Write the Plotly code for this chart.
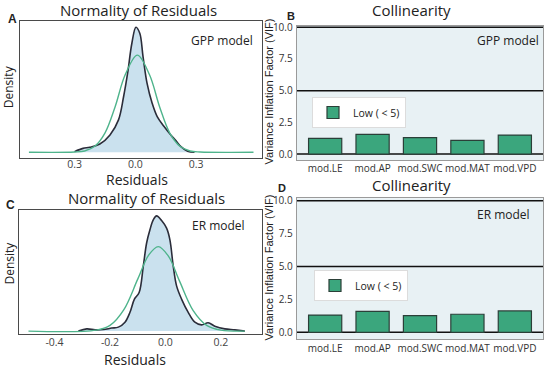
import plotly.graph_objects as go

# ---------------- data ----------------
# Panel A (GPP model) - kernel density of residuals (black) and normal fit (green)
gpp_kde_x = [-0.300, -0.258, -0.225, -0.175, -0.125, -0.083, -0.058, -0.038, -0.017, 0.003,
             0.022, 0.038, 0.058, 0.083, 0.108, 0.142, 0.175, 0.200, 0.225, 0.258, 0.292]
gpp_kde_y = [0.03, 0.18, 0.23, 0.38, 0.80, 1.50, 2.57, 3.66, 5.05, 5.79,
             5.51, 4.43, 3.19, 2.27, 1.65, 1.19, 0.80, 0.54, 0.26, 0.05, 0.0]
gpp_norm_x = [-0.525, -0.30, -0.25, -0.20, -0.15, -0.10, -0.05, 0.01, 0.07, 0.12, 0.17, 0.22, 0.27, 0.32, 0.583]
gpp_norm_y = [0.0, 0.01, 0.06, 0.28, 0.89, 2.10, 3.59, 4.50, 3.59, 2.10, 0.89, 0.28, 0.06, 0.01, 0.0]

# Panel C (ER model)
er_kde_x = [-0.314, -0.284, -0.254, -0.224, -0.194, -0.170, -0.146, -0.128, -0.112, -0.095,
            -0.080, -0.068, -0.056, -0.044, -0.032, -0.014, 0.004, 0.016, 0.028, 0.040,
            0.058, 0.082, 0.106, 0.130, 0.154, 0.178, 0.214, 0.250, 0.286]
er_kde_y = [0.0, 0.14, 0.08, 0.10, 0.19, 0.25, 0.56, 1.18, 2.01, 2.42,
            4.08, 5.53, 6.36, 6.98, 7.23, 6.94, 6.46, 5.73, 4.08, 2.84,
            2.01, 1.18, 0.56, 0.39, 0.52, 0.31, 0.14, 0.08, 0.0]
er_norm_x = [-0.494, -0.25, -0.20, -0.15, -0.10, -0.06, -0.026, 0.01, 0.05, 0.10, 0.15, 0.20, 0.286]
er_norm_y = [0.0, 0.06, 0.36, 1.35, 3.26, 4.78, 5.30, 4.72, 3.17, 1.29, 0.34, 0.06, 0.0]

# Panels B / D - collinearity (VIF)
predictors = ["mod.LE", "mod.AP", "mod.SWC", "mod.MAT", "mod.VPD"]
vif_gpp = [1.24, 1.55, 1.29, 1.08, 1.50]
vif_er = [1.31, 1.59, 1.26, 1.37, 1.62]

a_ticks = [-0.3, 0.0, 0.3]
a_ticktext = ["0.3", "0.0", "0.3"]
c_ticks = [-0.4, -0.2, 0.0, 0.2]
c_ticktext = ["-0.4", "-0.2", "0.0", "0.2"]
vif_ticks = [0, 2.5, 5, 7.5, 10]
vif_ticktext = ["0.0", "2.5", "5.0", "7.5", "10.0"]

# ---------------- styles ----------------
W, H = 550, 370
FONT = "Open Sans"
KDE_LINE = "#2b2d3a"
KDE_FILL = "rgba(196,222,236,0.9)"
NORM_LINE = "#4fb48c"
BAR_COLOR = "#3ba67d"
BAR_EDGE = "#2b3f38"
VIF_BG = "#e8f1f4"


def px(x):
    return x / W


def py(y):
    return 1 - y / H


fig = go.Figure()

# A
fig.add_trace(go.Scatter(x=gpp_kde_x, y=gpp_kde_y, mode="lines", line=dict(color=KDE_LINE, width=1.6, shape="spline"),
                         fill="tozeroy", fillcolor=KDE_FILL, xaxis="x", yaxis="y", showlegend=False))
fig.add_trace(go.Scatter(x=gpp_norm_x, y=gpp_norm_y, mode="lines", line=dict(color=NORM_LINE, width=1.4, shape="spline"),
                         xaxis="x", yaxis="y", showlegend=False))
# C
fig.add_trace(go.Scatter(x=er_kde_x, y=er_kde_y, mode="lines", line=dict(color=KDE_LINE, width=1.6, shape="spline"),
                         fill="tozeroy", fillcolor=KDE_FILL, xaxis="x3", yaxis="y3", showlegend=False))
fig.add_trace(go.Scatter(x=er_norm_x, y=er_norm_y, mode="lines", line=dict(color=NORM_LINE, width=1.4, shape="spline"),
                         xaxis="x3", yaxis="y3", showlegend=False))
# B
fig.add_trace(go.Bar(x=predictors, y=vif_gpp, width=0.7, marker=dict(color=BAR_COLOR, line=dict(color=BAR_EDGE, width=1.2)),
                     name="Low ( < 5)", xaxis="x2", yaxis="y2", legend="legend", showlegend=True))
# D
fig.add_trace(go.Bar(x=predictors, y=vif_er, width=0.7, marker=dict(color=BAR_COLOR, line=dict(color=BAR_EDGE, width=1.2)),
                     name="Low ( < 5)", xaxis="x4", yaxis="y4", legend="legend2", showlegend=True))

frame_ac = dict(showline=True, linecolor="#4a4a4a", linewidth=1.3, mirror=True, showgrid=False, zeroline=False)
frame_bd = dict(showline=True, linecolor="#9a9a9a", linewidth=1, mirror=True, showgrid=False, zeroline=False)
tickfont = dict(family=FONT, size=10.5, color="#444")
cat_font = dict(family=FONT, size=10, color="#333")
vif_font = dict(family=FONT, size=10, color="#333")

fig.update_layout(
    width=W, height=H, margin=dict(l=0, r=0, t=0, b=0, autoexpand=False),
    paper_bgcolor="white", plot_bgcolor="white",
    font=dict(family=FONT, color="#222"),
    xaxis=dict(domain=[px(20), px(262)], range=[-0.569, 0.625], tickvals=a_ticks, ticktext=a_ticktext,
               ticks="", tickfont=tickfont, ticklabelstandoff=-4, anchor="y", **frame_ac),
    yaxis=dict(domain=[py(158.3), py(21)], range=[-0.28, 6.08], showticklabels=False, ticks="", anchor="x", **frame_ac),
    xaxis3=dict(domain=[px(18.5), px(261.7)], range=[-0.53, 0.347], tickvals=c_ticks, ticktext=c_ticktext,
                ticks="", tickfont=tickfont, ticklabelstandoff=-1, anchor="y3", **frame_ac),
    yaxis3=dict(domain=[py(333.5), py(210)], range=[-0.15, 7.6], showticklabels=False, ticks="", anchor="x3", **frame_ac),
    xaxis2=dict(domain=[px(296.7), px(543.3)], range=[-0.6, 4.6], ticks="", tickangle=0, tickfont=cat_font,
                ticklabelstandoff=-1, automargin=False, anchor="y2", **frame_bd),
    yaxis2=dict(domain=[py(160), py(25.5)], range=[-0.47, 10.14], tickvals=vif_ticks, ticktext=vif_ticktext, ticks="",
                tickfont=vif_font, ticklabelstandoff=1, automargin=False, anchor="x2", **frame_bd),
    xaxis4=dict(domain=[px(296.7), px(543.3)], range=[-0.6, 4.6], ticks="", tickangle=0, tickfont=cat_font,
                automargin=False, anchor="y4", **frame_bd),
    yaxis4=dict(domain=[py(339), py(198.3)], range=[-0.51, 10.18], tickvals=vif_ticks, ticktext=vif_ticktext, ticks="",
                tickfont=vif_font, ticklabelstandoff=1, automargin=False, anchor="x4", **frame_bd),
    legend=dict(x=px(312), y=py(97), xanchor="left", yanchor="top", bgcolor="white", bordercolor="#dcdcdc", borderwidth=1,
                font=dict(family=FONT, size=10.5, color="#222"), itemwidth=30, tracegroupgap=0),
    legend2=dict(x=px(314), y=py(270), xanchor="left", yanchor="top", bgcolor="white", bordercolor="#dcdcdc", borderwidth=1,
                 font=dict(family=FONT, size=10.5, color="#222"), itemwidth=30, tracegroupgap=0),
    bargap=0.3,
)

shapes = []
for xa, ya in (("x2", "y2"), ("x4", "y4")):
    shapes.append(dict(type="rect", xref=f"{xa} domain", yref=f"{ya} domain", x0=0, x1=1, y0=0, y1=1,
                       fillcolor=VIF_BG, line=dict(width=0), layer="below"))
    for v in (0, 5, 10):
        shapes.append(dict(type="line", xref=f"{xa} domain", yref=ya, x0=0, x1=1, y0=v, y1=v,
                           line=dict(color="#111", width=1.5), layer="below"))
fig.update_layout(shapes=shapes)

ann = []


def text(t, x, y, size, color="#222", angle=0, bold=False, family=FONT):
    ann.append(dict(text=f"<b>{t}</b>" if bold else t, x=px(x), y=py(y), xref="paper", yref="paper", showarrow=False,
                    xanchor="center", yanchor="middle", textangle=angle, font=dict(family=family, size=size, color=color)))


text("Normality of Residuals", 138.3, 10, 15)
text("Normality of Residuals", 146.7, 197.5, 15)
text("Collinearity", 411.7, 10, 15)
text("Collinearity", 411.7, 185, 15)
text("A", 12.7, 19.3, 12, bold=True, family="Liberation Sans")
text("B", 290.5, 16, 11, bold=True, family="Liberation Sans")
text("C", 10, 205, 12, bold=True, family="Liberation Sans")
text("D", 281.7, 187.5, 11, bold=True, family="Liberation Sans")
text("Density", 8.5, 86.7, 12, angle=-90)
text("Density", 8.5, 263, 12, angle=-90)
text("Variance Inflation Factor (VIF)", 268.5, 92, 11, angle=-90, family="Liberation Sans")
text("Variance Inflation Factor (VIF)", 268.5, 268, 11, angle=-90, family="Liberation Sans")
text("Residuals", 136.5, 179.5, 14)
text("Residuals", 135, 359.5, 14)
text("GPP model", 221.7, 40.7, 12)
text("ER model", 218.3, 225, 12)
text("GPP model", 507.7, 40.7, 12)
text("ER model", 503.3, 215, 12)
fig.update_layout(annotations=ann)

fig.write_html("out.html", config={"displayModeBar": False},
               post_script="document.body.style.margin='0';document.body.style.overflow='hidden';")
